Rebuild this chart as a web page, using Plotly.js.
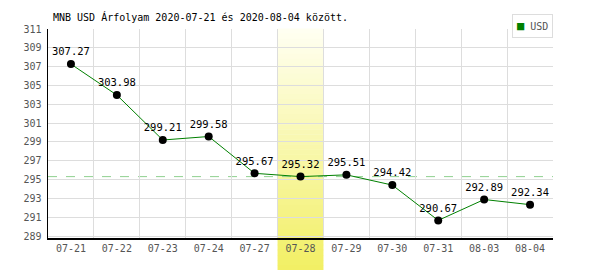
<!DOCTYPE html>
<html>
<head>
<meta charset="utf-8">
<script src="https://cdn.plot.ly/plotly-3.0.1.min.js"></script>
<style>html,body{margin:0;padding:0;background:#fff;}#chart{width:600px;height:270px;}</style>
</head>
<body>
<div id="chart"></div>
<script>
var dates = ["07-21","07-22","07-23","07-24","07-27","07-28","07-29","07-30","07-31","08-03","08-04"];
var usdRates = [307.27,303.98,299.21,299.58,295.67,295.32,295.51,294.42,290.67,292.89,292.34];
var yTicks = [289,291,293,295,297,299,301,303,305,307,309,311];
var highlightDate = "07-28";
var refValue = 295.32;
var seriesName = "USD";
var titleText = "MNB USD Árfolyam 2020-07-21 és 2020-08-04 között.";

var mono = "DejaVu Sans Mono, monospace";
var hi = dates.indexOf(highlightDate);
var shapes = [];
var N = 48, yBot = -0.155, yTop = 1.0;
var cTop = [255,255,242], cBot = [242,239,100];
for (var i = 0; i < N; i++) {
  var t = (i + 0.5) / N;
  var c = cTop.map(function(v, k){ return Math.round(v + (cBot[k] - v) * t); });
  var y1 = yTop - (yTop - yBot) * i / N;
  var y0 = yTop - (yTop - yBot) * (i + 1) / N;
  shapes.push({type:'rect', xref:'x', yref:'paper', x0: hi - 0.5, x1: hi + 0.5, y0: y0, y1: y1 + 0.002,
    fillcolor:'rgb(' + c.join(',') + ')', line:{width:0}, layer:'between'});
}
shapes.push({type:'line', xref:'paper', yref:'y', x0:0, x1:1, y0:refValue, y1:refValue,
  line:{color:'#8fd08f', width:1, dash:'dash'}, layer:'between'});

var traces = [
  {x: dates, y: usdRates, type:'scatter', mode:'lines+markers+text', name: seriesName,
   text: usdRates.map(function(v){ return v.toFixed(2); }), textposition:'top center',
   textfont:{family:mono, size:10.5, color:'#000'},
   line:{color:'#008000', width:1}, marker:{color:'#000', size:8}, showlegend:false, cliponaxis:false}
];

var layout = {
  width:600, height:270,
  margin:{l:48, r:47, t:29, b:32},
  paper_bgcolor:'#fff', plot_bgcolor:'#fff',
  title:{text:titleText, x:53/600, xanchor:'left', y:1-17/270, yanchor:'middle', font:{family:mono, size:10, color:'#000'}},
  xaxis:{type:'category', tickson:'boundaries', showgrid:true, gridcolor:'#dddddd', gridwidth:1,
    showline:true, linecolor:'#000', linewidth:1.5, ticks:'', tickfont:{family:mono, size:10, color:'#555'},
    range:[-0.5, dates.length - 0.5], fixedrange:true},
  yaxis:{range:[288.8, 311], tickvals:yTicks, ticktext:yTicks.map(String), showgrid:true, gridcolor:'#dddddd', gridwidth:1,
    showline:true, linecolor:'#000', linewidth:1.5, ticks:'', zeroline:false, ticklabelstandoff:3,
    tickfont:{family:mono, size:10, color:'#555'}, fixedrange:true},
  shapes: shapes,
  showlegend:false,
  annotations:[{xref:'paper', yref:'paper', x:1.0, xanchor:'right', y:1.072, yanchor:'top', showarrow:false,
    text:'<span style="color:#008000;font-size:12px">■</span> ' + seriesName, font:{family:mono, size:10, color:'#555'},
    bordercolor:'#dddddd', borderwidth:1, borderpad:4, bgcolor:'#fff'}]
};

Plotly.newPlot('chart', traces, layout, {displayModeBar:false, staticPlot:true});
</script>
</body>
</html>
